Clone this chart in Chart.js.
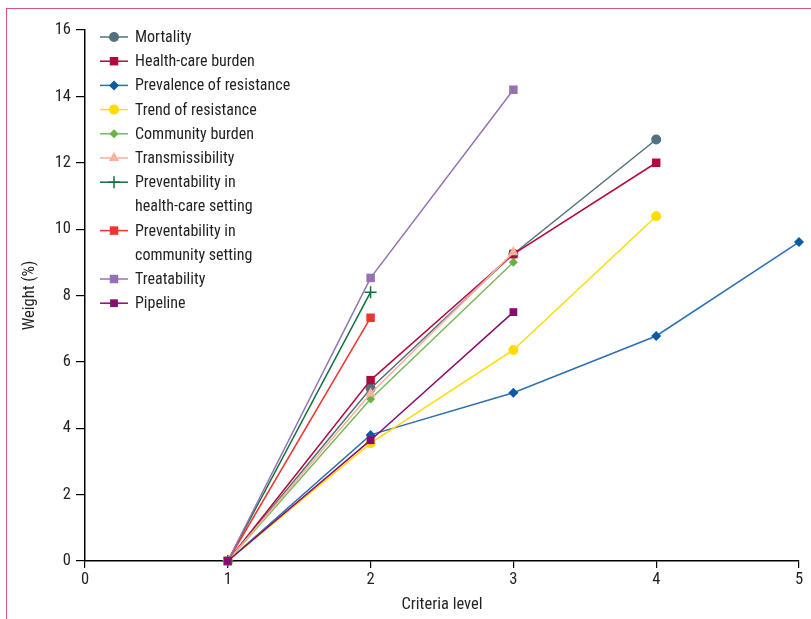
<!DOCTYPE html>
<html>
<head>
<meta charset="utf-8">
<script src="https://cdn.jsdelivr.net/npm/chart.js@4.4.0/dist/chart.umd.min.js"></script>
<style>
  html, body { margin: 0; padding: 0; background: #fff; }
  #frame { position: absolute; left: 6px; top: 8px; right: 0; bottom: 0;
           border-left: 1.5px solid #d6577a; border-top: 1.5px solid #d6577a; }
  #wrap { position: absolute; left: 0; top: 0; width: 811px; height: 619px; }
</style>
</head>
<body>
<div id="frame"></div>
<div id="wrap"><canvas id="chart" width="811" height="619"></canvas></div>
<script>
// criteria levels on the x axis
var levels = [1, 2, 3, 4, 5];

// weights (%) per criterion, one value per level
var mortality = [0, 5.2, 9.25, 12.7];
var healthCareBurden = [0, 5.45, 9.25, 12.0];
var prevalence = [0, 3.8, 5.07, 6.78, 9.61];
var trendResistance = [0, 3.55, 6.36, 10.39];
var communityBurden = [0, 4.88, 9.0];
var transmissibility = [0, 5.05, 9.3];
var preventHealthCare = [0, 8.1];
var preventCommunity = [0, 7.33];
var treatability = [0, 8.53, 14.2];
var pipeline = [0, 3.64, 7.5];

var xTicks = [0, 1, 2, 3, 4, 5];
var yTicks = [0, 2, 4, 6, 8, 10, 12, 14, 16];

var FONT = '"Roboto Condensed", "Open Sans", sans-serif';

function pts(values) {
    return values.map(function(v, i) { return { x: levels[i], y: v }; });
}

var series = [
    { label: ['Mortality'], data: mortality, color: '#52707d', style: 'circle', r: 5 },
    { label: ['Health-care burden'], data: healthCareBurden, color: '#b10a3d', style: 'rect', r: 6 },
    { label: ['Prevalence of resistance'], data: prevalence, color: '#0c5aa2', line: '#2d6fb3', style: 'rectRot', r: 5 },
    { label: ['Trend of resistance'], data: trendResistance, color: '#ffdc00', style: 'circle', r: 5 },
    { label: ['Community burden'], data: communityBurden, color: '#6cb146', line: '#7ab85a', style: 'rectRot', r: 4.5 },
    { label: ['Transmissibility'], data: transmissibility, color: '#f6b29a', style: 'triangle', r: 6 },
    { label: ['Preventability in', 'health-care setting'], data: preventHealthCare, color: '#0e7040', line: '#0e7040', style: 'cross', r: 6 },
    { label: ['Preventability in', 'community setting'], data: preventCommunity, color: '#ee3430', style: 'rect', r: 6 },
    { label: ['Treatability'], data: treatability, color: '#9672b5', style: 'rect', r: 6 },
    { label: ['Pipeline'], data: pipeline, color: '#870c6e', style: 'rect', r: 5.5 }
];

var datasets = series.map(function(s, i) {
    return {
        label: s.label.join(' '),
        legendLines: s.label,
        data: pts(s.data),
        borderColor: s.line || s.color,
        backgroundColor: s.color,
        pointBackgroundColor: s.color,
        pointBorderColor: s.color,
        pointStyle: s.style,
        pointRadius: s.r,
        pointBorderWidth: s.style === 'cross' ? 1.5 : 0,
        borderWidth: 1.5,
        tension: 0,
        clip: false,
        order: series.length - i
    };
});

// legend drawn by hand so the two-line labels sit like the original
var legendPlugin = {
    id: 'sideLegend',
    afterDraw: function(chart) {
        var ctx = chart.ctx;
        var x0 = 100, lineLen = 28, textX = 135, y = 37, step = 24.2;
        ctx.save();
        ctx.font = '16px ' + FONT;
        ctx.textBaseline = 'middle';
        chart.data.datasets.forEach(function(ds) {
            ctx.strokeStyle = ds.borderColor;
            ctx.lineWidth = 1.5;
            ctx.beginPath();
            ctx.moveTo(x0, y);
            ctx.lineTo(x0 + lineLen, y);
            ctx.stroke();
            ctx.fillStyle = ds.pointBackgroundColor;
            ctx.strokeStyle = ds.pointBorderColor;
            Chart.helpers.drawPoint(ctx, {
                pointStyle: ds.pointStyle,
                radius: ds.pointRadius,
                rotation: 0,
                borderWidth: ds.pointBorderWidth
            }, x0 + lineLen / 2, y);
            ctx.fillStyle = '#231f20';
            ds.legendLines.forEach(function(t) {
                ctx.fillText(t, textX, y + 1);
                y += step;
            });
        });
        ctx.restore();
    }
};

new Chart(document.getElementById('chart'), {
    type: 'line',
    data: { datasets: datasets },
    options: {
        responsive: false,
        animation: false,
        devicePixelRatio: 1,
        layout: { padding: { top: 30, right: 12, left: 0, bottom: 0 } },
        plugins: { legend: { display: false }, tooltip: { enabled: false } },
        scales: {
            x: {
                type: 'linear',
                min: 0, max: 5,
                afterFit: function(s) { s.height = 58; },
                afterBuildTicks: function(s) { s.ticks = xTicks.map(function(v) { return { value: v }; }); },
                border: { display: true, color: '#000', width: 1.5 },
                grid: { drawOnChartArea: false, drawTicks: true, tickLength: 7, color: '#000', lineWidth: 1.2 },
                ticks: { color: '#231f20', font: { family: FONT, size: 16.5 }, padding: 2 },
                title: { display: true, text: 'Criteria level', color: '#231f20',
                         font: { family: FONT, size: 16.5 }, padding: { top: 4 } }
            },
            y: {
                type: 'linear',
                min: 0, max: 16,
                afterFit: function(s) { s.width = 85; },
                afterBuildTicks: function(s) { s.ticks = yTicks.map(function(v) { return { value: v }; }); },
                border: { display: true, color: '#000', width: 1.5 },
                grid: { drawOnChartArea: false, drawTicks: true, tickLength: 9, color: '#000', lineWidth: 1.2 },
                ticks: { color: '#231f20', font: { family: FONT, size: 16.5 }, padding: 5 },
                title: { display: true, text: 'Weight (%)', color: '#231f20',
                         font: { family: FONT, size: 16.5 }, padding: { top: 20, bottom: 0 } }
            }
        }
    },
    plugins: [legendPlugin]
});
</script>
</body>
</html>
